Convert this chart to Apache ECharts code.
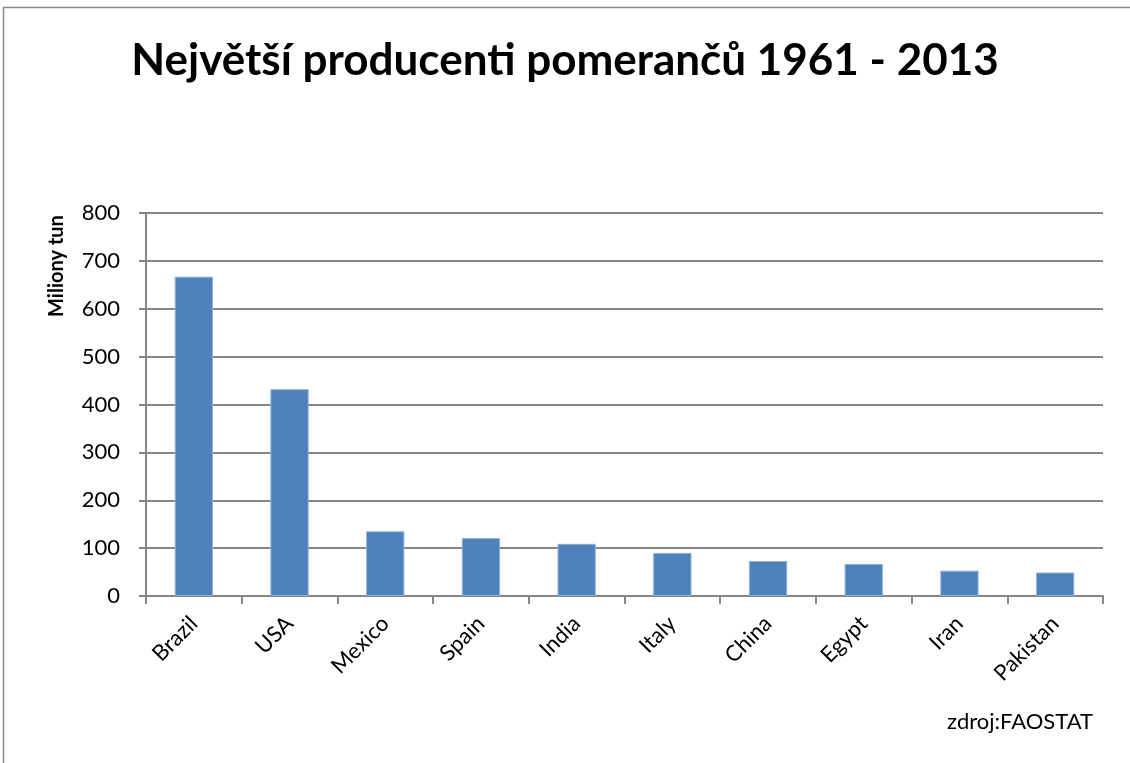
<!DOCTYPE html>
<html>
<head>
<meta charset="utf-8">
<script src="https://cdn.jsdelivr.net/npm/echarts@6/dist/echarts.min.js"></script>
<style>
  html, body { margin: 0; padding: 0; background: #fff; }
  #chart-container { width: 1130px; height: 763px; }
</style>
</head>
<body>
<div id="chart-container"></div>
<script>
const countries = ['Brazil', 'USA', 'Mexico', 'Spain', 'India', 'Italy', 'China', 'Egypt', 'Iran', 'Pakistan'];
const production = [667, 432, 135, 121, 109, 90, 73, 67, 53, 49];
const yTicks = { min: 0, max: 800, interval: 100 };

const chartDom = document.getElementById('chart-container');
const myChart = echarts.init(chartDom, null, { renderer: 'canvas' });

const fontName = 'Lato';
const axisGray = '#868686';

const option = {
  backgroundColor: '#fff',
  animation: false,
  title: {
    text: 'Největší producenti pomerančů 1961 - 2013',
    left: 'center',
    top: 34,
    textStyle: { fontFamily: fontName, fontSize: 44, fontWeight: 'bold', color: '#000' }
  },
  graphic: [
    {
      type: 'rect',
      shape: { x: 3.5, y: 7.5, width: 1140, height: 780 },
      style: { fill: 'none', stroke: '#8a8a8a', lineWidth: 1.5 }
    },
    {
      // axis title sits high on the axis, like the reference
      type: 'text',
      x: 57,
      y: 266,
      rotation: Math.PI / 2,
      style: {
        text: 'Miliony tun',
        fontFamily: fontName, fontSize: 20, fontWeight: 'bold', fill: '#000',
        align: 'center', verticalAlign: 'middle'
      }
    },
    {
      type: 'text',
      right: 37,
      top: 711,
      style: { text: 'zdroj:FAOSTAT', fontFamily: fontName, fontSize: 22, fill: '#000' }
    }
  ],
  grid: { left: 146, right: 27, top: 213, bottom: 167 },
  xAxis: {
    type: 'category',
    data: countries,
    axisLine: { lineStyle: { color: axisGray, width: 2 } },
    axisTick: { show: true, length: 8, lineStyle: { color: axisGray, width: 2 } },
    axisLabel: { rotate: 45, fontFamily: fontName, fontSize: 22, color: '#000', margin: 24 }
  },
  yAxis: {
    type: 'value',
    min: yTicks.min,
    max: yTicks.max,
    interval: yTicks.interval,
    axisLine: { show: true, lineStyle: { color: axisGray, width: 2 } },
    axisTick: { show: true, length: 7, lineStyle: { color: axisGray, width: 2 } },
    axisLabel: { fontFamily: fontName, fontSize: 22, color: '#000', margin: 26 },
    splitLine: { lineStyle: { color: axisGray, width: 2 } }
  },
  series: [
    {
      type: 'bar',
      data: production,
      barWidth: '40%',
      itemStyle: { color: '#4F81BD', borderColor: '#8FB0DA', borderWidth: 1 }
    }
  ]
};
myChart.setOption(option);
</script>
</body>
</html>
